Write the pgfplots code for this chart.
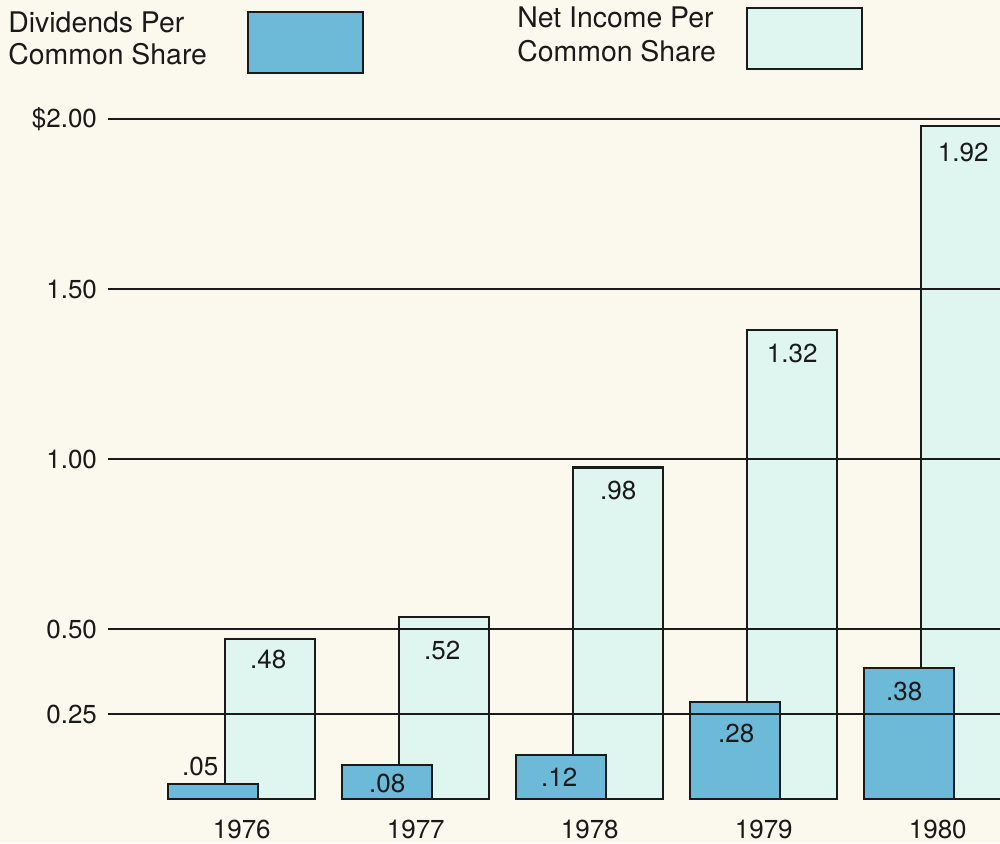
\documentclass[border=0pt]{standalone}
\usepackage{pgfplots}
\pgfplotsset{compat=1.18}
\usepackage{pgfplotstable}
\usepackage{fontspec}
\setmainfont{TeX Gyre Heros}
\definecolor{bg}{HTML}{FBF9EE}
\definecolor{divc}{RGB}{108,186,216}
\definecolor{nic}{RGB}{222,245,240}
\definecolor{ink}{HTML}{1A1A1A}
\pgfplotstableread{
x y label dx dy
0 0.045 .05 -6.5 8.5
1 0.100 .08 0 -9
2 0.130 .12 -1 -11
3 0.285 .28 0.5 -15.5
4 0.385 .38 -2.5 -11.5
}\divtab
\pgfplotstableread{
x y label dx dy
0 0.470 .48 -1 -10
1 0.535 .52 -1 -16.5
2 0.975 .98 0 -11.5
3 1.380 1.32 0 -12
4 1.980 1.92 -1.5 -13.5
}\nitab
\begin{document}
\begin{tikzpicture}
\useasboundingbox (0,0) rectangle (500pt,421.5pt);
\fill[bg] (0,0) rectangle (500pt,421.5pt);
\begin{axis}[
  at={(54pt,18.6pt)}, anchor=south west, scale only axis,
  width=446pt, height=351.9pt,
  xmin=-0.7687, xmax=4.3578, ymin=-0.02, ymax=2.05,
  ybar, bar width=0.517,
  axis line style={draw=none}, major tick length=0pt,
  xtick={0,1,2,3,4}, xticklabels={1976,1977,1978,1979,1980},
  ytick={0.25,0.5,1,1.5,2}, yticklabels={0.25,0.50,1.00,1.50,\$2.00},
  ymajorgrids, grid style={ink, line width=1pt},
  axis on top, clip=true,
  /pgf/number format/assume math mode=true,
  tick label style={font=\fontsize{13}{15}\selectfont, text=ink},
  xticklabel style={anchor=north, yshift=-3.5pt},
  yticklabel style={anchor=east, xshift=-2pt},
  point meta=explicit symbolic,
  nodes near coords,
  nodes near coords style={font=\fontsize{13}{15}\selectfont, text=ink, anchor=center, inner sep=0pt},
  visualization depends on={\thisrow{dx} \as \myDX},
  visualization depends on={\thisrow{dy} \as \myDY},
  every node near coord/.append style={xshift=\myDX pt, yshift=\myDY pt},
]
\addplot[draw=ink, line width=1.2pt, fill=nic, bar shift=0.1638] table[x=x, y=y, meta=label] {\nitab};
\addplot[draw=ink, line width=1.2pt, fill=divc, bar shift=-0.1638] table[x=x, y=y, meta=label] {\divtab};
\end{axis}
% legend
\begin{scope}[every node/.style={inner sep=0pt, anchor=base west, text=ink, font=\fontsize{14.2}{16}\selectfont}]
\node at (4pt,405pt) {Dividends Per};
\node at (4pt,389pt) {Common Share};
\node at (258.5pt,407.5pt) {Net Income Per};
\node at (258.5pt,390.5pt) {Common Share};
\end{scope}
\draw[ink, line width=1.2pt, fill=divc] (124pt,415.5pt) rectangle (181.5pt,385pt);
\draw[ink, line width=1.2pt, fill=nic] (373.5pt,417.5pt) rectangle (431pt,387pt);
\end{tikzpicture}
\end{document}
